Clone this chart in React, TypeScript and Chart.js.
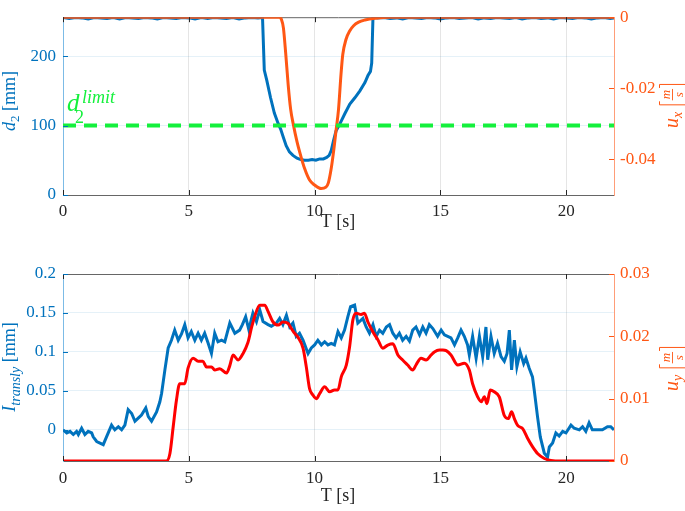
import React, { useEffect, useRef } from "react"
import { Chart, registerables } from "chart.js"

Chart.register(...registerables)

const BLUE = "#0072BD"
const ORANGE = "#FF5714"
const RED = "#FF0000"
const GREEN = "#14F03C"
const DARK = "#262626"
const SERIF = "'Liberation Serif', 'DejaVu Serif', serif"

// shared time axis
const tMax = 21.9
const timeTicks = [0, 5, 10, 15, 20]

// top panel: distance d2 [mm] (left) and u_x [m/s] (right)
const d2Time = [
  0, 0.25, 0.5, 0.75, 1, 1.25, 1.5, 1.75, 2, 2.25, 2.5, 2.75, 3, 3.25, 3.5, 3.75,
  4, 4.25, 4.5, 4.75, 5, 5.25, 5.5, 5.75, 6, 6.25, 6.5, 6.75, 7, 7.25, 7.5, 7.75, 7.93,
  8.0, 8.1, 8.25, 8.4, 8.55, 8.65, 8.75, 8.87, 9.0, 9.14, 9.3, 9.45, 9.6, 9.75, 9.9,
  10.05, 10.2, 10.35, 10.48, 10.58, 10.66, 10.75, 10.85, 11.0, 11.2, 11.4, 11.6, 11.8,
  12.0, 12.12, 12.22, 12.27, 12.32,
  12.5, 12.75, 13, 13.25, 13.5, 13.75, 14, 14.25, 14.5, 14.75, 15, 15.25, 15.5, 15.75,
  16, 16.25, 16.5, 16.75, 17, 17.25, 17.5, 17.75, 18, 18.25, 18.5, 18.75, 19, 19.25,
  19.5, 19.75, 20, 20.25, 20.5, 20.75, 21, 21.25, 21.5, 21.75, 21.9,
]
const d2Value = [
  255.5, 254, 255.5, 255, 253.5, 255.5, 255, 254, 255.5, 253.5, 255.5, 255, 254, 255.5, 255, 253.5,
  255.5, 255, 254, 255.5, 255, 253.5, 255.5, 254, 255.5, 255, 254, 255.5, 253.5, 255, 255.5, 255, 255.5,
  180, 165, 140, 118, 103, 95, 84, 71, 62, 57, 53, 51, 50, 50, 51,
  50, 52, 52, 54, 57, 64, 78, 92, 102, 117, 131, 140, 150,
  162, 172, 178, 190, 255.5,
  255, 255.5, 254, 255, 253.5, 255.5, 255, 254, 255.5, 255, 253.5, 255, 255.5, 254,
  255, 255.5, 253.5, 255, 254, 255.5, 255, 254, 255.5, 253.5, 255, 255.5, 254, 255,
  253.5, 255.5, 255, 254, 255.5, 255, 253.5, 255, 255.5, 254, 255,
]
const uxTime = [
  0, 8.6, 8.68, 8.76, 8.85, 8.95, 9.05, 9.15, 9.3, 9.45, 9.6, 9.8, 10.0, 10.26, 10.45,
  10.55, 10.65, 10.75, 10.85, 10.95, 11.05, 11.12, 11.25, 11.4, 11.55, 11.75, 12.0, 12.4,
  13.0, 21.9,
]
const uxValue = [
  0, 0, -0.0006, -0.003, -0.01, -0.019, -0.026, -0.03, -0.035, -0.039, -0.0425, -0.0458,
  -0.0472, -0.0482, -0.0478, -0.0465, -0.043, -0.038, -0.032, -0.026, -0.016, -0.0105,
  -0.0062, -0.0038, -0.0024, -0.0014, -0.0008, -0.0003, 0, 0,
]
const d2Limit = 100
const d2Ticks = [0, 100, 200]
const uxTicks = [-0.04, -0.02, 0]

// bottom panel: I_transly [mm] (left) and u_y [m/s] (right)
const iTime = [
  0, 0.15, 0.28, 0.41, 0.54, 0.61, 0.74, 0.87, 1.0, 1.14, 1.2, 1.34, 1.47, 1.6, 1.73,
  1.93, 2.06, 2.2, 2.33, 2.46, 2.59, 2.73, 2.86, 2.99, 3.12, 3.29, 3.39, 3.52, 3.72,
  3.85, 3.92, 4.05, 4.18, 4.31, 4.44, 4.58, 4.71, 4.84, 4.97, 5.1, 5.24, 5.37, 5.5,
  5.63, 5.77, 5.9, 6.03, 6.16, 6.3, 6.43, 6.63, 6.83, 7.02, 7.13, 7.26, 7.39, 7.48,
  7.55, 7.69, 7.82, 7.95, 8.15, 8.28, 8.48, 8.61, 8.74, 8.88, 9.01, 9.14, 9.27, 9.4,
  9.54, 9.74, 9.87, 10.0, 10.13, 10.27, 10.4, 10.53, 10.66, 10.79, 10.93, 11.06, 11.19,
  11.32, 11.43, 11.59, 11.72, 11.92, 12.05, 12.18, 12.32, 12.45, 12.58, 12.71, 12.85,
  12.98, 13.11, 13.24, 13.37, 13.5, 13.64, 13.77, 13.9, 14.03, 14.17, 14.3, 14.43,
  14.56, 14.7, 14.89, 15.03, 15.16, 15.29, 15.42, 15.56, 15.69, 15.82, 15.95, 16.08,
  16.15, 16.28, 16.42, 16.55, 16.68, 16.81, 16.88, 17.01, 17.14, 17.27, 17.41, 17.54,
  17.65, 17.74, 17.83, 17.94, 18.04, 18.17, 18.31, 18.4, 18.53, 18.66, 18.73, 18.86,
  18.97, 19.13, 19.26, 19.33, 19.46, 19.59, 19.72, 19.86, 19.99, 20.19, 20.32, 20.52,
  20.65, 20.78, 20.91, 21.04, 21.25, 21.44, 21.64, 21.77, 21.9,
]
const iValue = [
  0, -0.004, -0.002, -0.006, -0.002, -0.006, 0.002, -0.006, -0.002, -0.004, -0.009,
  -0.015, -0.017, -0.019, -0.009, 0.006, 0, 0.004, 0, 0.006, 0.026, 0.021, 0.011, 0.015,
  0.019, 0.028, 0.017, 0.011, 0.023, 0.036, 0.047, 0.077, 0.105, 0.115, 0.128, 0.115,
  0.123, 0.135, 0.118, 0.126, 0.115, 0.124, 0.115, 0.124, 0.111, 0.098, 0.124, 0.113,
  0.115, 0.113, 0.137, 0.124, 0.128, 0.135, 0.145, 0.128, 0.141, 0.15, 0.139, 0.154,
  0.139, 0.135, 0.133, 0.137, 0.143, 0.135, 0.147, 0.132, 0.137, 0.12, 0.124, 0.115,
  0.098, 0.105, 0.109, 0.115, 0.109, 0.113, 0.109, 0.111, 0.109, 0.126, 0.118, 0.128,
  0.145, 0.158, 0.16, 0.137, 0.143, 0.132, 0.124, 0.135, 0.12, 0.128, 0.124, 0.132,
  0.135, 0.124, 0.118, 0.124, 0.115, 0.12, 0.114, 0.128, 0.132, 0.122, 0.132, 0.124,
  0.135, 0.13, 0.12, 0.128, 0.122, 0.12, 0.118, 0.109, 0.118, 0.128, 0.12, 0.109,
  0.096, 0.12, 0.092, 0.12, 0.094, 0.132, 0.09, 0.12, 0.098, 0.111, 0.094, 0.088,
  0.098, 0.128, 0.077, 0.115, 0.081, 0.1, 0.085, 0.092, 0.079, 0.068, 0.051, 0.017,
  -0.009, -0.03, -0.035, -0.022, -0.017, -0.004, -0.008, -0.002, -0.004, 0.006, 0.002, 0,
  0.004, -0.002, 0.009, 0, 0, 0, 0.004, 0.004, 0,
]
const uyTime = [
  0, 4.11, 4.25, 4.38, 4.51, 4.64, 4.84, 4.97, 5.17, 5.37, 5.56, 5.7, 5.9, 6.03, 6.23,
  6.5, 6.63, 6.76, 6.96, 7.15, 7.35, 7.5, 7.62, 7.82, 8.02, 8.15, 8.35, 8.55, 8.74,
  8.94, 9.07, 9.2, 9.33, 9.54, 9.67, 9.8, 9.93, 10.07, 10.2, 10.4, 10.6, 10.79, 10.93,
  11.06, 11.26, 11.39, 11.52, 11.65, 11.85, 11.98, 12.12, 12.32, 12.52, 12.71, 12.91,
  13.11, 13.31, 13.5, 13.7, 13.9, 14.03, 14.23, 14.43, 14.63, 14.76, 14.96, 15.1, 15.23,
  15.42, 15.69, 15.95, 16.15, 16.28, 16.48, 16.62, 16.75, 16.85, 16.98, 17.14, 17.34,
  17.54, 17.7, 17.83, 17.94, 18.07, 18.27, 18.47, 18.66, 18.86, 19.13, 19.39, 19.8, 21.9,
]
const uyValue = [
  0, 0, 0.0012, 0.0055, 0.0098, 0.0124, 0.0124, 0.0149, 0.0165, 0.016, 0.016, 0.0151,
  0.0151, 0.0146, 0.0148, 0.0141, 0.0153, 0.017, 0.0162, 0.0172, 0.019, 0.0215, 0.0232,
  0.025, 0.025, 0.024, 0.0223, 0.0218, 0.0223, 0.0221, 0.0213, 0.0205, 0.0199, 0.0181,
  0.0151, 0.0116, 0.0106, 0.01, 0.0108, 0.0119, 0.0111, 0.0114, 0.0114, 0.0135, 0.0154,
  0.0183, 0.0226, 0.0237, 0.0235, 0.0237, 0.0223, 0.0207, 0.0194, 0.0181, 0.0186,
  0.0188, 0.017, 0.0162, 0.0154, 0.0146, 0.0154, 0.0165, 0.0162, 0.017, 0.0175, 0.0178,
  0.0178, 0.0177, 0.017, 0.0154, 0.0157, 0.0146, 0.0124, 0.0103, 0.0095, 0.0103, 0.0092,
  0.0114, 0.0111, 0.0103, 0.0073, 0.0068, 0.0079, 0.0068, 0.0057, 0.0052, 0.0036,
  0.0023, 0.0012, 0.0004, 0.0001, 0, 0,
]
const iTicks = [0, 0.05, 0.1, 0.15, 0.2]
const uyTicks = [0, 0.01, 0.02, 0.03]

type Seg = { text?: string; size: number; italic?: boolean; dy?: number; frac?: [string, string] }

const fontOf = (s: Seg) => `${s.italic ? "italic " : ""}${s.size}px ${SERIF}`

const zip = (xs: number[], ys: number[]) => xs.map((x, i) => ({ x, y: ys[i] }))

function segWidth(ctx: CanvasRenderingContext2D, s: Seg) {
  ctx.font = fontOf(s)
  if (s.frac) {
    return Math.max(ctx.measureText(s.frac[0]).width, ctx.measureText(s.frac[1]).width) + 16
  }
  return ctx.measureText(s.text ?? "").width
}

// rich text (sub/superscripts, a bracketed fraction), centred on (x, y) baseline
function drawRich(ctx: CanvasRenderingContext2D, x: number, y: number, segs: Seg[], color: string, vertical: boolean) {
  ctx.save()
  ctx.translate(x, y)
  if (vertical) ctx.rotate(-Math.PI / 2)
  ctx.fillStyle = color
  ctx.strokeStyle = color
  ctx.textBaseline = "alphabetic"
  ctx.textAlign = "left"
  const widths = segs.map((s) => segWidth(ctx, s))
  let cx = -widths.reduce((a, b) => a + b, 0) / 2
  segs.forEach((s, i) => {
    ctx.font = fontOf(s)
    if (s.frac) {
      const w = widths[i]
      const axis = -5.5
      const h = 13
      ctx.lineWidth = 1
      ctx.beginPath()
      ctx.moveTo(cx + 6, axis - h)
      ctx.lineTo(cx + 2.5, axis - h)
      ctx.lineTo(cx + 2.5, axis + h)
      ctx.lineTo(cx + 6, axis + h)
      ctx.moveTo(cx + w - 6, axis - h)
      ctx.lineTo(cx + w - 2.5, axis - h)
      ctx.lineTo(cx + w - 2.5, axis + h)
      ctx.lineTo(cx + w - 6, axis + h)
      ctx.stroke()
      ctx.fillRect(cx + 7, axis - 0.4, w - 14, 0.9)
      ctx.textAlign = "center"
      ctx.fillText(s.frac[0], cx + w / 2, axis - 2.5)
      ctx.fillText(s.frac[1], cx + w / 2, axis + 10)
      ctx.textAlign = "left"
    } else {
      ctx.fillText(s.text ?? "", cx, s.dy ?? 0)
    }
    cx += widths[i]
  })
  ctx.restore()
}

// dark top edge of the box, drawn under the data lines
function drawTopEdge(chart: Chart) {
  const { ctx, chartArea: a } = chart
  ctx.save()
  ctx.lineWidth = 1
  ctx.strokeStyle = "#666"
  ctx.beginPath()
  ctx.moveTo(a.left, a.top + 0.5)
  ctx.lineTo(a.right, a.top + 0.5)
  ctx.stroke()
  ctx.restore()
}

// MATLAB-like ticks drawn inside the box
function drawInnerTicks(chart: Chart, leftTicks: number[], rightTicks: number[], rightColor: string) {
  const { ctx, chartArea: a, scales } = chart
  ctx.save()
  ctx.lineWidth = 1
  ctx.strokeStyle = DARK
  ctx.beginPath()
  for (const v of timeTicks) {
    const px = Math.round(scales.x.getPixelForValue(v)) + 0.5
    ctx.moveTo(px, a.bottom)
    ctx.lineTo(px, a.bottom - 5)
    ctx.moveTo(px, a.top)
    ctx.lineTo(px, a.top + 5)
  }
  ctx.stroke()
  ctx.strokeStyle = BLUE
  ctx.beginPath()
  for (const v of leftTicks) {
    const py = Math.round(scales.yL.getPixelForValue(v)) + 0.5
    ctx.moveTo(a.left, py)
    ctx.lineTo(a.left + 5, py)
  }
  ctx.stroke()
  ctx.strokeStyle = rightColor
  ctx.beginPath()
  for (const v of rightTicks) {
    const py = Math.round(scales.yR.getPixelForValue(v)) + 0.5
    ctx.moveTo(a.right, py)
    ctx.lineTo(a.right - 5, py)
  }
  ctx.stroke()
  ctx.restore()
}

function xTitle(ctx: CanvasRenderingContext2D, y: number) {
  ctx.save()
  ctx.fillStyle = DARK
  ctx.font = `18px ${SERIF}`
  ctx.textAlign = "center"
  ctx.textBaseline = "middle"
  ctx.fillText("T [s]", 338, y)
  ctx.restore()
}

const tickFont = { family: SERIF, size: 17 }

function baseOptions(opts: {
  padTop: number
  xHeight: number
  xPad: number
  yL: [number, number, number[]]
  yR: [number, number, number[]]
}): any {
  const setTicks = (vals: number[]) => (s: any) => {
    s.ticks = vals.map((value) => ({ value }))
  }
  return {
    animation: false,
    responsive: false,
    events: [],
    layout: { padding: { top: opts.padTop, left: 0, right: 0, bottom: 0 } },
    plugins: { legend: { display: false }, tooltip: { enabled: false } },
    scales: {
      x: {
        type: "linear",
        min: 0,
        max: tMax,
        afterBuildTicks: setTicks(timeTicks),
        afterFit: (s: any) => {
          s.height = opts.xHeight
        },
        grid: { color: "rgba(38,38,38,0.12)", drawTicks: false },
        border: { color: "#666" },
        ticks: { color: DARK, font: tickFont, padding: opts.xPad, maxRotation: 0, autoSkip: false, callback: (v: number) => String(v) },
      },
      yL: {
        type: "linear",
        position: "left",
        min: opts.yL[0],
        max: opts.yL[1],
        afterBuildTicks: setTicks(opts.yL[2]),
        afterFit: (s: any) => {
          s.width = 63
        },
        grid: { color: "rgba(0,114,189,0.10)", drawTicks: false },
        border: { color: "#7cbbe6" },
        ticks: { color: BLUE, font: tickFont, padding: 7, autoSkip: false, callback: (v: number) => String(v) },
      },
      yR: {
        type: "linear",
        position: "right",
        min: opts.yR[0],
        max: opts.yR[1],
        afterBuildTicks: setTicks(opts.yR[2]),
        afterFit: (s: any) => {
          s.width = 71
        },
        grid: { display: false, drawTicks: false },
        border: { color: "#ff9d78" },
        ticks: { color: ORANGE, font: tickFont, padding: 6, autoSkip: false, callback: (v: number) => String(v) },
      },
    },
  }
}

const lineStyle = { pointRadius: 0, borderWidth: 3, fill: false }

const rightTitle = (sub: string) => [
  { text: "u", size: 20, italic: true },
  { text: sub, size: 14, italic: true, dy: 4 },
  { text: " ", size: 18 },
  { frac: ["m", "s"] as [string, string], size: 13, italic: true },
]

const TopPanel = () => {
  const ref = useRef<HTMLCanvasElement>(null)

  useEffect(() => {
    if (ref.current == null) return

    const textPlugin = {
      id: "topText",
      beforeDatasetsDraw: (chart: Chart) => drawTopEdge(chart),
      afterDraw: (chart: Chart) => {
        const ctx = chart.ctx
        drawInnerTicks(chart, d2Ticks, uxTicks, ORANGE)
        drawRich(ctx, 15, 101, [
          { text: "d", size: 18, italic: true },
          { text: "2", size: 13, dy: 4 },
          { text: " [mm]", size: 18 },
        ], BLUE, true)
        drawRich(ctx, 678, 105, rightTitle("x"), ORANGE, true)
        xTitle(ctx, 222)
        // d2^limit label next to the threshold line
        const px = chart.scales.x.getPixelForValue(0.16)
        const py = chart.scales.yL.getPixelForValue(121)
        ctx.save()
        ctx.fillStyle = GREEN
        ctx.textBaseline = "alphabetic"
        ctx.font = `italic 25px ${SERIF}`
        ctx.fillText("d", px, py)
        ctx.font = `18px ${SERIF}`
        ctx.fillText("2", px + 8, py + 12)
        ctx.font = `italic 18px ${SERIF}`
        ctx.fillText("limit", px + 15, py - 8)
        ctx.restore()
      },
    }

    const chart = new Chart(ref.current, {
      type: "line",
      data: {
        datasets: [
          { label: "limit", data: zip([0, tMax], [d2Limit, d2Limit]), yAxisID: "yL", borderColor: GREEN, borderWidth: 4, borderDash: [13, 8], pointRadius: 0, order: 0 },
          { label: "ux", data: zip(uxTime, uxValue), yAxisID: "yR", borderColor: ORANGE, cubicInterpolationMode: "monotone", order: 1, ...lineStyle },
          { label: "d2", data: zip(d2Time, d2Value), yAxisID: "yL", borderColor: BLUE, order: 2, ...lineStyle },
        ],
      },
      options: baseOptions({ padTop: 7, xHeight: 50, xPad: 6, yL: [0, 256, d2Ticks], yR: [-0.05, 0, uxTicks] }),
      plugins: [textPlugin],
    } as any)

    return () => {
      chart.destroy()
    }
  }, [])

  return <canvas ref={ref} width={685} height={245} style={{ position: "absolute", left: 0, top: 0 }} />
}

const BottomPanel = () => {
  const ref = useRef<HTMLCanvasElement>(null)

  useEffect(() => {
    if (ref.current == null) return

    const textPlugin = {
      id: "bottomText",
      beforeDatasetsDraw: (chart: Chart) => drawTopEdge(chart),
      afterDraw: (chart: Chart) => {
        const ctx = chart.ctx
        drawInnerTicks(chart, iTicks, uyTicks, ORANGE)
        drawRich(ctx, 15, 122, [
          { text: "I", size: 18, italic: true },
          { text: "transly", size: 14, italic: true, dy: 5 },
          { text: " [mm]", size: 18 },
        ], BLUE, true)
        drawRich(ctx, 678, 123, rightTitle("y"), ORANGE, true)
        xTitle(ctx, 251)
      },
    }

    const chart = new Chart(ref.current, {
      type: "line",
      data: {
        datasets: [
          { label: "uy", data: zip(uyTime, uyValue), yAxisID: "yR", borderColor: RED, cubicInterpolationMode: "monotone", order: 1, ...lineStyle },
          { label: "I", data: zip(iTime, iValue), yAxisID: "yL", borderColor: BLUE, order: 2, ...lineStyle },
        ],
      },
      options: baseOptions({ padTop: 29, xHeight: 50, xPad: 7, yL: [-0.04, 0.2, iTicks], yR: [0, 0.03, uyTicks] }),
      plugins: [textPlugin],
    } as any)

    return () => {
      chart.destroy()
    }
  }, [])

  return <canvas ref={ref} width={685} height={266} style={{ position: "absolute", left: 0, top: 245 }} />
}

export default function App() {
  return (
    <div style={{ position: "absolute", left: 0, top: 0, width: 685, height: 511, background: "#fff" }}>
      <TopPanel />
      <BottomPanel />
    </div>
  )
}
